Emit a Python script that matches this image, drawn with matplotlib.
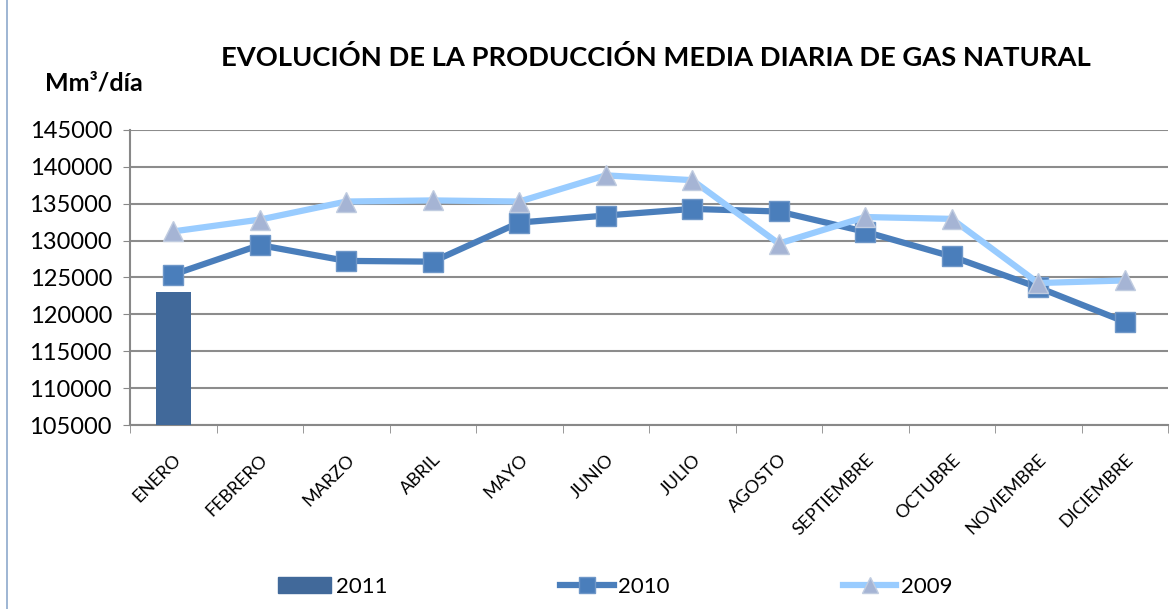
import matplotlib.pyplot as plt
import numpy as np
from matplotlib.lines import Line2D

plt.rcParams['font.family'] = ['Lato', 'DejaVu Sans']

# data
meses = ["ENERO", "FEBRERO", "MARZO", "ABRIL", "MAYO", "JUNIO", "JULIO",
         "AGOSTO", "SEPTIEMBRE", "OCTUBRE", "NOVIEMBRE", "DICIEMBRE"]
prod_2011 = [123100]
prod_2010 = [125400, 129400, 127250, 127150, 132450, 133400, 134300,
             133950, 131200, 127850, 123650, 119000]
prod_2009 = [131250, 132850, 135300, 135450, 135300, 138850, 138200,
             129600, 133200, 132950, 124250, 124600]

c_bar = '#41699A'
c_2010 = '#4A7EBB'
c_2009 = '#99CCFF'
c_tri = '#A5B4D4'

fig = plt.figure(figsize=(11.76, 6.09), dpi=100)
ax = fig.add_axes([130/1176, 1 - 425/609, 1038/1176, 295/609])

x = np.arange(len(meses))
ax.bar(x[:len(prod_2011)], np.array(prod_2011) - 105000, bottom=105000,
       width=0.4, color=c_bar, zorder=3)
ax.plot(x, prod_2010, color=c_2010, lw=4.5, marker='s', ms=15,
        mfc=c_2010, mec='#6E97C8', mew=1, zorder=4)
ax.plot(x, prod_2009, color=c_2009, lw=4.5, marker='^', ms=15,
        mfc=c_tri, mec='#C0CCE0', mew=1, zorder=5)

ax.set_xlim(-0.5, len(meses) - 0.5)
ax.set_ylim(105000, 145000)
ax.set_yticks(np.arange(105000, 145001, 5000))
ax.tick_params(axis='y', labelsize=17, length=5, color='#888888', direction='out', pad=8)
ax.yaxis.grid(True, color='#8C8C8C', lw=1.5, zorder=0)

ax.set_xticks(x)
ax.set_xticklabels(meses, rotation=45, ha='right', rotation_mode='anchor',
                   fontsize=13)
ax.set_xticks(np.arange(-0.5, len(meses)), minor=True)
ax.tick_params(axis='x', which='major', length=0, pad=19)
ax.tick_params(axis='x', which='minor', length=6, color='#888888')

for s in ['top', 'right']:
    ax.spines[s].set_visible(False)
ax.spines['left'].set_color('#888888')
ax.spines['bottom'].set_color('#888888')
ax.spines['left'].set_linewidth(1.5)
ax.spines['bottom'].set_linewidth(1.5)

fig.text(656/1176, 1 - 57/609, "EVOLUCIÓN DE LA PRODUCCIÓN MEDIA DIARIA DE GAS NATURAL",
         ha='center', va='center', fontsize=19.7, fontweight='bold')
fig.text(45/1176, 1 - 83/609, "Mm³/día", ha='left', va='center',
         fontsize=18, fontweight='bold')

# chart border on the left
fig.add_artist(Line2D([7/1176, 7/1176], [0, 1], color='#8EA9CC', lw=1.2))

handles = [
    plt.Rectangle((0, 0), 1, 1, color=c_bar),
    Line2D([], [], color=c_2010, lw=4.5, marker='s', ms=12, mfc=c_2010, mec='#6E97C8'),
    Line2D([], [], color=c_2009, lw=4.5, marker='^', ms=12, mfc=c_tri, mec='#C0CCE0'),
]
fig.legend(handles, ["2011", "2010", "2009"], loc='center', ncol=3,
           bbox_to_anchor=(615/1176, 1 - 587/609), frameon=False,
           fontsize=16, columnspacing=7.8, handlelength=2.4, handletextpad=0.2)

fig.savefig('out.png', dpi=100)
